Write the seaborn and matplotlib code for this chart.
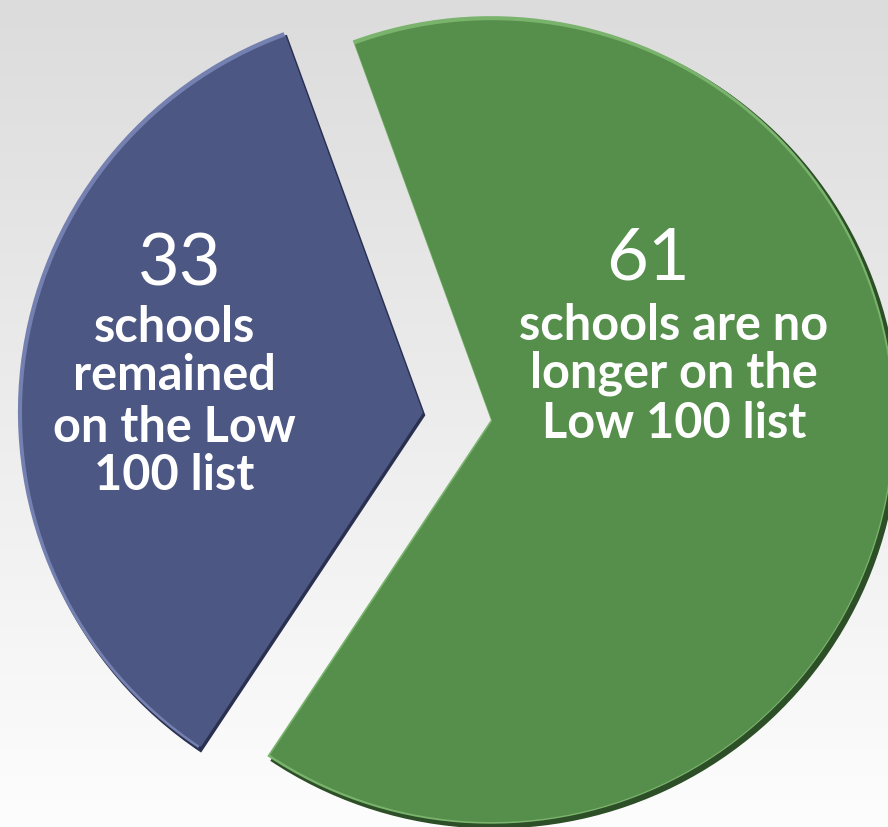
import numpy as np
import matplotlib
matplotlib.use("Agg")
import matplotlib.pyplot as plt
import seaborn as sns

# data
counts = [33, 61]
big_labels = ["33", "61"]
small_labels = [
    ["schools", "remained", "on the Low", "100 list"],
    ["schools are no", "longer on the", "Low 100 list"],
]
slice_colors = ["#4D5784", "#568F4B"]
shadow_colors = ["#2A3050", "#2D4F27"]
light_colors = ["#7480B0", "#79B36C"]

sns.set_style("white")
plt.rcParams["font.family"] = ["Lato", "DejaVu Sans"]

fig = plt.figure(figsize=(8.88, 8.27), dpi=100)
ax = fig.add_axes([0, 0, 1, 1])

# pie centre at pixel (457.5, 417), radius ~405 px
xlim = (-457.5 / 405, (888 - 457.5) / 405)
ylim = (-(827 - 417) / 405, 417 / 405)

# soft grey (top) to white (bottom) background
grad = np.linspace(0, 1, 256).reshape(-1, 1)
bg = matplotlib.colors.LinearSegmentedColormap.from_list("bg", ["#DCDCDC", "#FDFDFD"])
ax.imshow(grad, cmap=bg, aspect="auto", origin="upper",
          extent=[xlim[0], xlim[1], ylim[0], ylim[1]], zorder=0)

explode = [0.086, 0.086]
kw = dict(startangle=110, counterclock=True, explode=explode)
# bevel: dark shadow, light rim, then main face
ax.pie(counts, colors=shadow_colors, center=(0.006, -0.006), radius=1.0,
       wedgeprops=dict(linewidth=0, zorder=1), **kw)
ax.pie(counts, colors=light_colors, center=(-0.003, 0.003), radius=0.997,
       wedgeprops=dict(linewidth=0, zorder=2), **kw)
ax.pie(counts, colors=slice_colors, center=(0, 0), radius=0.99,
       wedgeprops=dict(linewidth=0, zorder=3), **kw)

ax.set_xlim(*xlim)
ax.set_ylim(*ylim)
ax.set_aspect("auto")
ax.axis("off")


def px(x, y):
    return (x - 457.5) / 405, (417 - y) / 405


big_pos = [(180, 285), (648, 280)]
line_x = [174, 674]
line_base = [[342, 390, 442, 490], [340, 388, 438]]

for i in range(2):
    x, y = px(*big_pos[i])
    ax.text(x, y, big_labels[i], ha="center", va="baseline", color="white",
            fontsize=52, zorder=5)
    for line, b in zip(small_labels[i], line_base[i]):
        x, y = px(line_x[i], b)
        ax.text(x, y, line, ha="center", va="baseline", color="white",
                fontsize=35, fontweight="bold", zorder=5)

fig.savefig("out.png", dpi=100)
